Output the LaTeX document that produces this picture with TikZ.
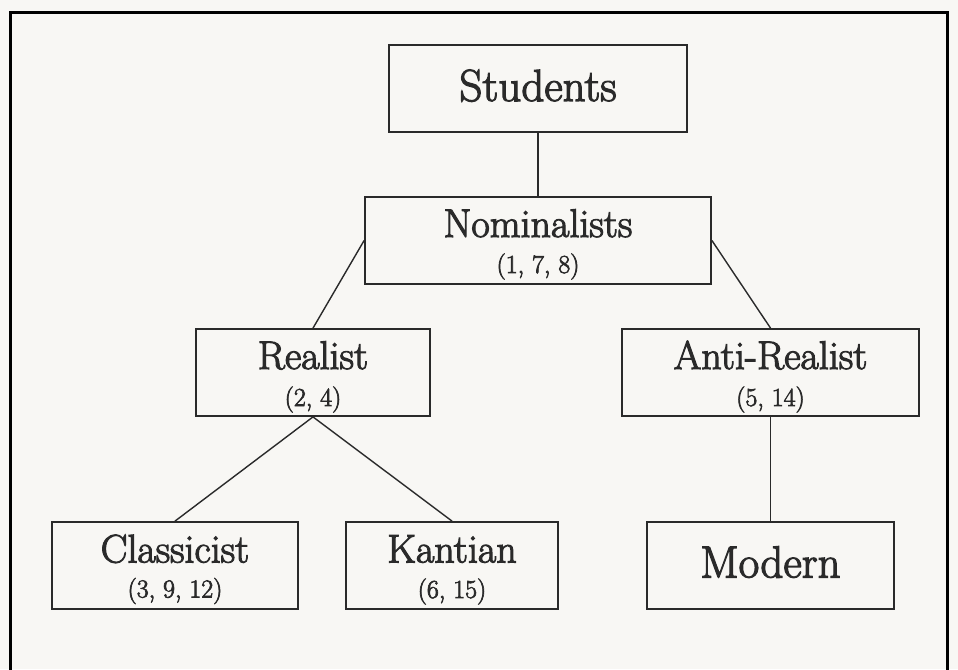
\documentclass[tikz,border=0pt]{standalone}
\usepackage{fontspec}
\newfontfamily\heavyfont{Latin Modern Roman}[FakeBold=2.6]
\definecolor{paper}{HTML}{F8F7F4}
\definecolor{ink}{HTML}{2A2A2A}
\begin{document}
\begin{tikzpicture}[x=1pt,y=-1pt,
  box/.style={draw=ink, line width=1.8pt, minimum width=#1, minimum height=87pt, inner sep=0pt},
  conn/.style={draw=ink, line width=1.4pt},
  maintxt/.style={anchor=base, inner sep=0pt, text=ink, font=\heavyfont\fontsize{40}{48}\selectfont},
  bigtxt/.style={anchor=base, inner sep=0pt, text=ink, font=\heavyfont\fontsize{45}{54}\selectfont},
  subtxt/.style={anchor=base, inner sep=0pt, text=ink, font=\heavyfont\fontsize{26}{31}\selectfont}]
\fill[paper] (0,0) rectangle (958,669);
\useasboundingbox (0,0) rectangle (958,669);
% frame
\draw[line width=3pt, black] (10.5,670) -- (10.5,13) -- (947.5,13) -- (947.5,670);
% boxes
\node[box=298pt] (stu) at (538,88.5) {};
\node[box=346pt] (nom) at (538,240.5) {};
\node[box=234pt] (rea) at (313,372.5) {};
\node[box=297pt] (anti) at (770.5,372.5) {};
\node[box=246pt] (cls) at (175,565.5) {};
\node[box=212pt] (kan) at (452,565.5) {};
\node[box=247pt] (mod) at (770.5,565.5) {};
% texts
\node[bigtxt] (stuT) at (538,101) {Students};
\node[maintxt] (nomT) at (538,237) {Nominalists};
\node[subtxt] (nomS) at (538,273) {(1, 7, 8)};
\node[maintxt] (reaT) at (313,369) {Realist};
\node[subtxt] (reaS) at (313,406) {(2, 4)};
\node[maintxt] (antiT) at (770.5,369) {Anti-Realist};
\node[subtxt] (antiS) at (770.5,406) {(5, 14)};
\node[maintxt] (clsT) at (175,562.5) {Classicist};
\node[subtxt] (clsS) at (175,597.5) {(3, 9, 12)};
\node[maintxt] (kanT) at (452,562.5) {Kantian};
\node[subtxt] (kanS) at (452,598) {(6, 15)};
\node[bigtxt] (modT) at (770.5,577.5) {Modern};
% connectors
\draw[conn] (stu.south) -- (nom.north);
\draw[conn] (nom.west) -- (rea.north);
\draw[conn] (nom.east) -- (anti.north);
\draw[conn] (rea.south) -- (cls.north);
\draw[conn] (rea.south) -- (kan.north);
\draw[conn] (anti.south) -- (mod.north);
\end{tikzpicture}
\end{document}
